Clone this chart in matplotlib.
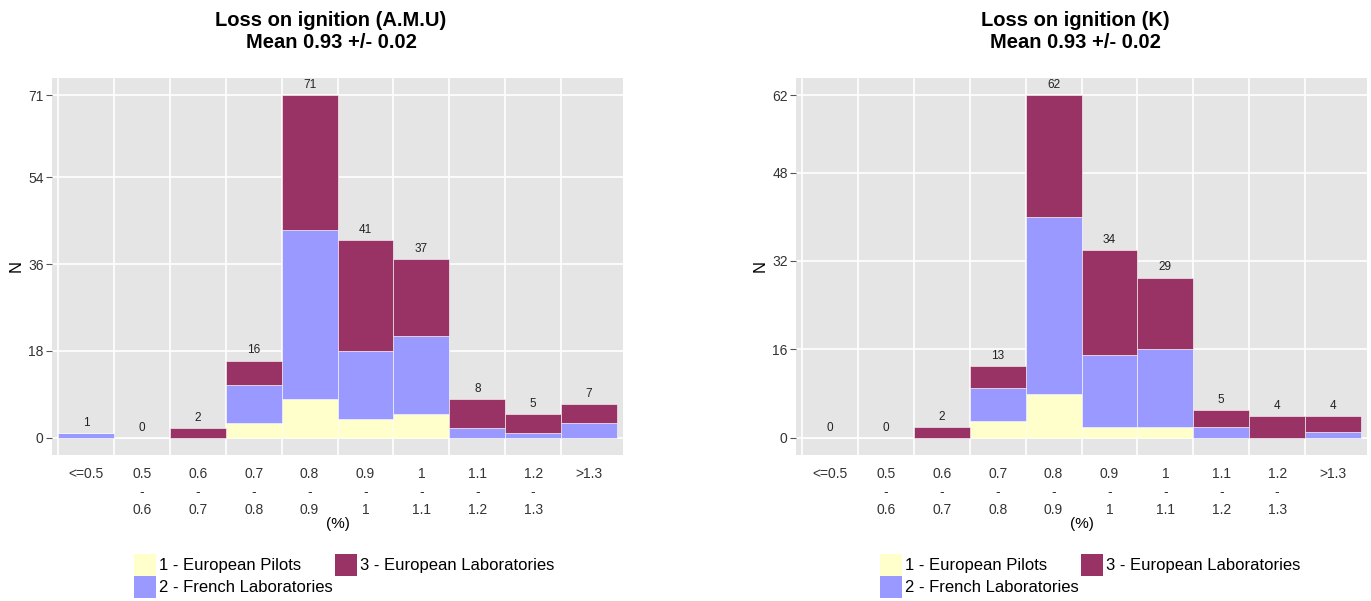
import numpy as np
import matplotlib
matplotlib.use("Agg")
import matplotlib.pyplot as plt
from matplotlib.patches import Patch

plt.rcParams['font.family'] = ['Liberation Sans', 'DejaVu Sans']

# bins and labels
bins = ["<=0.5", "0.5\n-\n0.6", "0.6\n-\n0.7", "0.7\n-\n0.8", "0.8\n-\n0.9",
        "0.9\n-\n1", "1\n-\n1.1", "1.1\n-\n1.2", "1.2\n-\n1.3", ">1.3"]
groups = ["1 - European Pilots", "2 - French Laboratories", "3 - European Laboratories"]
colors = ["#FFFFCC", "#9999FF", "#993366"]

# A.M.U panel
amu_pilots = [0, 0, 0, 3, 8, 4, 5, 0, 0, 0]
amu_french = [1, 0, 0, 8, 35, 14, 16, 2, 1, 3]
amu_eurolab = [0, 0, 2, 5, 28, 23, 16, 6, 4, 4]
amu_yticks = [0, 18, 36, 54, 71]

# K panel
k_pilots = [0, 0, 0, 3, 8, 2, 2, 0, 0, 0]
k_french = [0, 0, 0, 6, 32, 13, 14, 2, 0, 1]
k_eurolab = [0, 0, 2, 4, 22, 19, 13, 3, 4, 3]
k_yticks = [0, 16, 32, 48, 62]

W, H = 1371, 601
fig = plt.figure(figsize=(W / 100, H / 100), dpi=100)


def panel(rect, series, yticks, title, title_x, legend_x):
    ax = fig.add_axes(rect)
    ax.set_facecolor("#E5E5E5")
    for s in ax.spines.values():
        s.set_visible(False)
    n = len(bins)
    x = np.arange(n)
    bottom = np.zeros(n)
    for vals, c in zip(series, colors):
        vals = np.array(vals, dtype=float)
        ax.bar(x, vals, width=1.0, bottom=bottom, align="edge", color=c,
               edgecolor="#ffffff", linewidth=0.4, zorder=2)
        bottom += vals
    for xi, tot in zip(x, bottom):
        ax.annotate(f"{int(tot)}", (xi + 0.5, tot), xytext=(0, 3),
                    textcoords="offset points", ha="center", va="bottom",
                    fontsize=8.5, color="#222222", zorder=3)
    ymax = max(yticks)
    ax.set_ylim(-0.05 * ymax, 1.05 * ymax)
    ax.set_xlim(-0.107, n + 0.107)
    ax.set_yticks(yticks)
    ax.set_xticks(x + 0.5)
    ax.set_xticklabels(bins, linespacing=1.35)
    for yt in yticks:
        ax.axhline(yt, color="white", lw=1.2, zorder=1)
    for xi in x:
        ax.axvline(xi, color="white", lw=1.2, zorder=1)
    ax.tick_params(axis="y", length=4, width=0.8, color="#555555",
                   labelsize=10, labelcolor="#333333", pad=2)
    ax.tick_params(axis="x", length=0, labelsize=10, labelcolor="#333333", pad=9)
    ax.set_ylabel("N", fontsize=12, labelpad=3)
    ax.set_xlabel("(%)", fontsize=11, labelpad=0)
    fig.text(title_x / W, 1 - 31 / H, title, ha="center", va="center",
             fontsize=14.5, fontweight="bold", linespacing=1.2)
    handles = [Patch(facecolor=c, edgecolor="none") for c in colors]
    fig.legend(handles, groups, loc="upper left",
               bbox_to_anchor=(legend_x / W, 1 - 554 / H), ncol=2,
               frameon=False, fontsize=12, handlelength=1.32, handleheight=1.65,
               handletextpad=0.2, labelspacing=0.0, columnspacing=0.1,
               borderpad=0, borderaxespad=0)
    return ax


panel([52 / W, 1 - 455 / H, 571 / W, 377 / H],
      [amu_pilots, amu_french, amu_eurolab], amu_yticks,
      "Loss on ignition (A.M.U)\nMean 0.93 +/- 0.02", 331, 134)
panel([796 / W, 1 - 455 / H, 571 / W, 377 / H],
      [k_pilots, k_french, k_eurolab], k_yticks,
      "Loss on ignition (K)\nMean 0.93 +/- 0.02", 1075, 880)

fig.savefig("out.png", dpi=100)
